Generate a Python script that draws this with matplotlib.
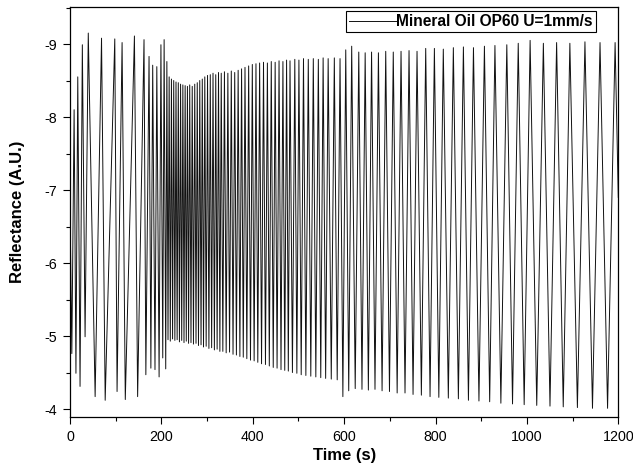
import numpy as np
import matplotlib
matplotlib.use("Agg")
import matplotlib.pyplot as plt
from matplotlib.ticker import MultipleLocator

plt.rcParams['font.family'] = ['Liberation Sans', 'DejaVu Sans']
plt.rcParams['axes.unicode_minus'] = False

# ---- data (extrema of the oscillating signal) ----
start_t, start_r = 0.0, -6.8
end_t, end_r = 1200.0, -6.9

peak_t = [9, 17, 27, 40, 69, 98, 114, 141, 162, 173, 181, 190, 199, 206,
          212, 217, 222, 227, 232, 237, 242, 247, 252, 257, 262, 267.5, 273, 278.5,
          284, 289.5, 295, 301, 307, 313, 319, 325, 331,
          338, 345.5, 353, 360.5, 368, 375.5, 383, 391, 399, 407, 415, 423.5, 432,
          440.5, 449, 457.5, 466, 474, 481.5, 492, 501, 511, 521.5, 532.5, 543.5,
          554, 565, 578.5, 591,
          603.5, 616.5, 632, 646, 660, 675, 691, 707.5, 724.5, 742, 759.5, 778.5,
          797.5, 817, 839, 861, 883, 907, 930, 956, 981, 1007, 1036, 1065, 1094,
          1127, 1160, 1193]
peak_r = [-8.10, -8.55, -8.99, -9.15, -9.08, -9.07, -9.02, -9.11, -9.06, -8.83, -8.71, -8.69, -8.99, -9.06,
          -8.76, -8.55, -8.52, -8.50, -8.48, -8.47, -8.45, -8.44, -8.43, -8.42, -8.44, -8.42, -8.45, -8.47,
          -8.50, -8.52, -8.55, -8.57, -8.58, -8.60, -8.58, -8.61, -8.60,
          -8.62, -8.60, -8.63, -8.61, -8.64, -8.66, -8.68, -8.70, -8.72, -8.73, -8.74, -8.75, -8.74,
          -8.76, -8.75, -8.77, -8.76, -8.78, -8.77, -8.79, -8.78, -8.80, -8.79, -8.80, -8.79,
          -8.81, -8.80, -8.81, -8.80,
          -8.92, -8.97, -8.89, -8.88, -8.89, -8.88, -8.90, -8.89, -8.90, -8.91, -8.90, -8.94,
          -8.94, -8.93, -8.95, -8.96, -8.95, -8.97, -8.98, -8.99, -9.01, -9.05, -9.01, -9.02, -9.01,
          -9.03, -9.02, -9.02]

trough_t = [4, 13, 22, 33, 55, 77, 103, 121, 148, 166, 177, 186, 195, 203,
            209.5, 214.5, 219.5, 224.5, 229.5, 234.5, 239.5, 244.5, 249.5, 254.5, 259.5,
            264.8, 270.2, 275.8, 281.2, 286.8, 292.2, 298, 304, 310, 316, 322, 328,
            334.5, 341.8, 349.2, 356.8, 364.2, 371.8, 379.2, 387, 395, 403, 411, 419.2,
            427.8, 436.2, 444.8, 453.2, 461.8, 470, 477.8, 486.8, 496.5, 506, 516.2, 527,
            538, 548.8, 559.5, 571.8, 584.8,
            597.2, 610, 624.2, 639, 653, 667.5, 683, 699.2, 716, 733.2, 750.8, 769, 788,
            807.2, 828, 850, 872, 895, 918.5, 943, 968.5, 994, 1021.5, 1050.5, 1079.5,
            1110.5, 1143.5, 1176.5]
trough_r = [-4.76, -4.49, -4.31, -4.99, -4.17, -4.12, -4.24, -4.13, -4.17, -4.47, -4.56, -4.54, -4.44, -4.70,
            -4.55, -4.95, -4.93, -4.96, -4.94, -4.95, -4.92, -4.94, -4.91, -4.93, -4.90,
            -4.91, -4.89, -4.90, -4.87, -4.88, -4.85, -4.86, -4.83, -4.84, -4.81, -4.82, -4.79,
            -4.79, -4.77, -4.78, -4.75, -4.74, -4.72, -4.71, -4.69, -4.67, -4.66, -4.64, -4.62,
            -4.61, -4.59, -4.57, -4.56, -4.54, -4.53, -4.52, -4.50, -4.49, -4.47, -4.46, -4.45,
            -4.44, -4.43, -4.42, -4.41, -4.40,
            -4.17, -4.25, -4.28, -4.27, -4.26, -4.27, -4.25, -4.24, -4.22, -4.22, -4.20, -4.19, -4.17,
            -4.16, -4.15, -4.14, -4.12, -4.11, -4.10, -4.08, -4.07, -4.06, -4.05, -4.04, -4.03,
            -4.02, -4.01, -4.01]

legend_label = "Mineral Oil OP60 U=1mm/s"
x_ticks = [0, 200, 400, 600, 800, 1000, 1200]
y_ticks = [-9, -8, -7, -6, -5, -4]

# ---- assemble the trace ----
t_all = np.concatenate([[start_t], peak_t, trough_t, [end_t]])
r_all = np.concatenate([[start_r], peak_r, trough_r, [end_r]])
order = np.argsort(t_all, kind="stable")
t_all, r_all = t_all[order], r_all[order]

W, H = 633, 469
fig = plt.figure(figsize=(W / 100, H / 100), dpi=100)
ax_l, ax_r, ax_t, ax_b = 70, 618.3, 7.3, 416.7
ax = fig.add_axes([ax_l / W, (H - ax_b) / H, (ax_r - ax_l) / W, (ax_b - ax_t) / H])

ax.plot(t_all, r_all, color="#111111", lw=0.7, label=legend_label)

ax.set_xlim(0, 1200)
ax.set_ylim(-3.895, -9.503)
ax.set_xticks(x_ticks)
ax.set_yticks(y_ticks)
ax.xaxis.set_minor_locator(MultipleLocator(100))
ax.yaxis.set_minor_locator(MultipleLocator(0.5))
ax.tick_params(which="major", direction="out", length=4.8, width=0.8, labelsize=10.3, pad=4.5)
ax.tick_params(which="minor", direction="out", length=2.8, width=0.8)
for s in ax.spines.values():
    s.set_linewidth(0.9)

ax.set_xlabel("Time (s)", fontsize=12, fontweight="bold", labelpad=3.5)
ax.set_ylabel("Reflectance (A.U.)", fontsize=12, fontweight="bold")
ax.yaxis.set_label_coords((25 - ax_l) / (ax_r - ax_l), 0.5)

leg = ax.legend(loc="upper right",
                bbox_to_anchor=((596 - ax_l) / (ax_r - ax_l), (ax_b - 11.0) / (ax_b - ax_t)),
                borderaxespad=0, fancybox=False, framealpha=1, edgecolor="black",
                handlelength=3.0, handletextpad=0.05, borderpad=0.2,
                prop={"size": 11.2, "weight": "bold"})
leg.get_frame().set_linewidth(0.8)

fig.savefig("out.png", dpi=100)
